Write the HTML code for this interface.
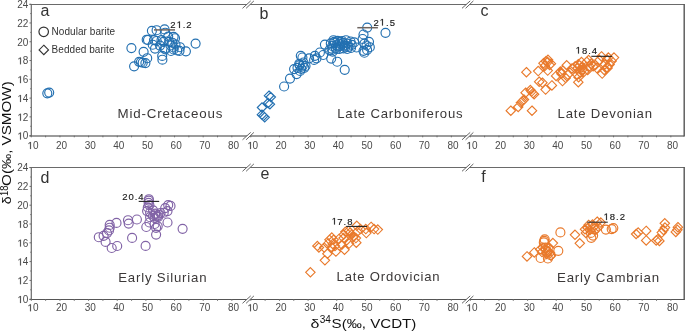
<!DOCTYPE html>
<html><head><meta charset="utf-8"><style>
*{margin:0;padding:0}
html,body{width:685px;height:331px;background:#fff;overflow:hidden}
svg{display:block;will-change:transform}
text{font-family:"Liberation Sans",sans-serif}
.tl{font-size:10px;fill:#4a4a4a}
path.tl{stroke:#4a4a4a;stroke-width:40}
path.vl{stroke:#222;stroke-width:40}
.pl{font-size:16px;fill:#333}
.pn{font-size:13px;fill:#3b3838;letter-spacing:0.8px}
.lg{font-size:10px;fill:#333;letter-spacing:0.05px}
.at{font-size:12.6px;fill:#111}
.sup{font-size:10px;fill:#111}
.vl{font-size:9.5px;fill:#1a1a1a;stroke:#1a1a1a;stroke-width:0.15px}
</style></head>
<body><svg width="685" height="331" viewBox="0 0 685 331">
<path d="M29.50 4.50H684.20" stroke="#6a6a6a" stroke-width="1.1" fill="none"/>
<path d="M29.50 136.00H684.20" stroke="#7a7a7a" stroke-width="1.3" fill="none"/>
<path d="M31.30 4.50V136.00" stroke="#6a6a6a" stroke-width="1.2" fill="none"/>
<path d="M684.20 3.90V136.60" stroke="#555" stroke-width="1.4" fill="none"/>
<path d="M29.50 135.66H31.30M30.30 126.27H31.30M29.50 116.88H31.30M30.30 107.49H31.30M29.50 98.10H31.30M30.30 88.71H31.30M29.50 79.32H31.30M30.30 69.93H31.30M29.50 60.54H31.30M30.30 51.15H31.30M29.50 41.76H31.30M30.30 32.37H31.30M29.50 22.98H31.30M30.30 13.59H31.30M29.50 4.20H31.30" stroke="#6a6a6a" stroke-width="1" fill="none"/>
<text x="17.18" y="139.46" class="tl"> 0</text><path class="tl" d="M575 0L756 0L756 1409L590 1409L257 1180L257 1010L575 1237Z" transform="translate(17.25 139.46) scale(0.00488 -0.00488)"/>
<text x="17.18" y="120.68" class="tl"> 2</text><path class="tl" d="M575 0L756 0L756 1409L590 1409L257 1180L257 1010L575 1237Z" transform="translate(17.25 120.68) scale(0.00488 -0.00488)"/>
<text x="17.18" y="101.90" class="tl"> 4</text><path class="tl" d="M575 0L756 0L756 1409L590 1409L257 1180L257 1010L575 1237Z" transform="translate(17.25 101.90) scale(0.00488 -0.00488)"/>
<text x="17.18" y="83.12" class="tl"> 6</text><path class="tl" d="M575 0L756 0L756 1409L590 1409L257 1180L257 1010L575 1237Z" transform="translate(17.25 83.12) scale(0.00488 -0.00488)"/>
<text x="17.18" y="64.34" class="tl"> 8</text><path class="tl" d="M575 0L756 0L756 1409L590 1409L257 1180L257 1010L575 1237Z" transform="translate(17.25 64.34) scale(0.00488 -0.00488)"/>
<text x="17.18" y="45.56" class="tl">20</text>
<text x="17.18" y="26.78" class="tl">22</text>
<text x="17.18" y="8.00" class="tl">24</text>
<text x="27.34" y="149.00" class="tl"> 0</text><path class="tl" d="M575 0L756 0L756 1409L590 1409L257 1180L257 1010L575 1237Z" transform="translate(27.25 149.00) scale(0.00488 -0.00488)"/>
<text x="55.99" y="149.00" class="tl">20</text>
<text x="84.64" y="149.00" class="tl">30</text>
<text x="113.29" y="149.00" class="tl">40</text>
<text x="141.94" y="149.00" class="tl">50</text>
<text x="170.59" y="149.00" class="tl">60</text>
<text x="199.24" y="149.00" class="tl">70</text>
<text x="227.89" y="149.00" class="tl">80</text>
<text x="246.84" y="149.00" class="tl"> 0</text><path class="tl" d="M575 0L756 0L756 1409L590 1409L257 1180L257 1010L575 1237Z" transform="translate(247.25 149.00) scale(0.00488 -0.00488)"/>
<text x="275.49" y="149.00" class="tl">20</text>
<text x="304.14" y="149.00" class="tl">30</text>
<text x="332.79" y="149.00" class="tl">40</text>
<text x="361.44" y="149.00" class="tl">50</text>
<text x="390.09" y="149.00" class="tl">60</text>
<text x="418.74" y="149.00" class="tl">70</text>
<text x="447.39" y="149.00" class="tl">80</text>
<text x="466.34" y="149.00" class="tl"> 0</text><path class="tl" d="M575 0L756 0L756 1409L590 1409L257 1180L257 1010L575 1237Z" transform="translate(466.25 149.00) scale(0.00488 -0.00488)"/>
<text x="494.99" y="149.00" class="tl">20</text>
<text x="523.64" y="149.00" class="tl">30</text>
<text x="552.29" y="149.00" class="tl">40</text>
<text x="580.94" y="149.00" class="tl">50</text>
<text x="609.59" y="149.00" class="tl">60</text>
<text x="638.24" y="149.00" class="tl">70</text>
<text x="666.89" y="149.00" class="tl">80</text>
<path d="M31.30 135.70V137.30M45.62 135.70V137.30M59.95 135.70V137.30M74.28 135.70V137.30M88.60 135.70V137.30M102.92 135.70V137.30M117.25 135.70V137.30M131.58 135.70V137.30M145.90 135.70V137.30M160.23 135.70V137.30M174.55 135.70V137.30M188.88 135.70V137.30M203.20 135.70V137.30M217.53 135.70V137.30M231.85 135.70V137.30M250.80 135.70V137.30M265.12 135.70V137.30M279.45 135.70V137.30M293.78 135.70V137.30M308.10 135.70V137.30M322.43 135.70V137.30M336.75 135.70V137.30M351.08 135.70V137.30M365.40 135.70V137.30M379.73 135.70V137.30M394.05 135.70V137.30M408.38 135.70V137.30M422.70 135.70V137.30M437.03 135.70V137.30M451.35 135.70V137.30M470.30 135.70V137.30M484.62 135.70V137.30M498.95 135.70V137.30M513.27 135.70V137.30M527.60 135.70V137.30M541.92 135.70V137.30M556.25 135.70V137.30M570.58 135.70V137.30M584.90 135.70V137.30M599.23 135.70V137.30M613.55 135.70V137.30M627.88 135.70V137.30M642.20 135.70V137.30M656.53 135.70V137.30M670.85 135.70V137.30" stroke="#6a6a6a" stroke-width="1" fill="none"/>
<path d="M242.50 8.30L250.70 0.90L253.90 0.90L246.10 8.30Z" fill="#fff"/>
<path d="M242.50 8.30L250.70 0.90M246.10 8.30L253.90 0.90" stroke="#555" stroke-width="0.9" fill="none"/>
<path d="M242.50 139.80L250.70 132.40L253.90 132.40L246.10 139.80Z" fill="#fff"/>
<path d="M242.50 139.80L250.70 132.40M246.10 139.80L253.90 132.40" stroke="#555" stroke-width="0.9" fill="none"/>
<path d="M462.00 8.30L470.20 0.90L473.40 0.90L465.60 8.30Z" fill="#fff"/>
<path d="M462.00 8.30L470.20 0.90M465.60 8.30L473.40 0.90" stroke="#555" stroke-width="0.9" fill="none"/>
<path d="M462.00 139.80L470.20 132.40L473.40 132.40L465.60 139.80Z" fill="#fff"/>
<path d="M462.00 139.80L470.20 132.40M465.60 139.80L473.40 132.40" stroke="#555" stroke-width="0.9" fill="none"/>
<path d="M29.50 167.50H684.20" stroke="#6a6a6a" stroke-width="1.1" fill="none"/>
<path d="M29.50 299.50H684.20" stroke="#555" stroke-width="1.1" fill="none"/>
<path d="M31.30 167.50V299.50" stroke="#6a6a6a" stroke-width="1.2" fill="none"/>
<path d="M684.20 166.90V300.10" stroke="#555" stroke-width="1.4" fill="none"/>
<path d="M29.50 299.20H31.30M30.30 289.80H31.30M29.50 280.40H31.30M30.30 271.00H31.30M29.50 261.60H31.30M30.30 252.20H31.30M29.50 242.80H31.30M30.30 233.40H31.30M29.50 224.00H31.30M30.30 214.60H31.30M29.50 205.20H31.30M30.30 195.80H31.30M29.50 186.40H31.30M30.30 177.00H31.30M29.50 167.60H31.30" stroke="#6a6a6a" stroke-width="1" fill="none"/>
<text x="17.18" y="303.00" class="tl"> 0</text><path class="tl" d="M575 0L756 0L756 1409L590 1409L257 1180L257 1010L575 1237Z" transform="translate(17.25 303.00) scale(0.00488 -0.00488)"/>
<text x="17.18" y="284.20" class="tl"> 2</text><path class="tl" d="M575 0L756 0L756 1409L590 1409L257 1180L257 1010L575 1237Z" transform="translate(17.25 284.20) scale(0.00488 -0.00488)"/>
<text x="17.18" y="265.40" class="tl"> 4</text><path class="tl" d="M575 0L756 0L756 1409L590 1409L257 1180L257 1010L575 1237Z" transform="translate(17.25 265.40) scale(0.00488 -0.00488)"/>
<text x="17.18" y="246.60" class="tl"> 6</text><path class="tl" d="M575 0L756 0L756 1409L590 1409L257 1180L257 1010L575 1237Z" transform="translate(17.25 246.60) scale(0.00488 -0.00488)"/>
<text x="17.18" y="227.80" class="tl"> 8</text><path class="tl" d="M575 0L756 0L756 1409L590 1409L257 1180L257 1010L575 1237Z" transform="translate(17.25 227.80) scale(0.00488 -0.00488)"/>
<text x="17.18" y="209.00" class="tl">20</text>
<text x="17.18" y="190.20" class="tl">22</text>
<text x="17.18" y="171.40" class="tl">24</text>
<text x="27.34" y="311.20" class="tl"> 0</text><path class="tl" d="M575 0L756 0L756 1409L590 1409L257 1180L257 1010L575 1237Z" transform="translate(27.25 311.20) scale(0.00488 -0.00488)"/>
<text x="55.99" y="311.20" class="tl">20</text>
<text x="84.64" y="311.20" class="tl">30</text>
<text x="113.29" y="311.20" class="tl">40</text>
<text x="141.94" y="311.20" class="tl">50</text>
<text x="170.59" y="311.20" class="tl">60</text>
<text x="199.24" y="311.20" class="tl">70</text>
<text x="227.89" y="311.20" class="tl">80</text>
<text x="246.84" y="311.20" class="tl"> 0</text><path class="tl" d="M575 0L756 0L756 1409L590 1409L257 1180L257 1010L575 1237Z" transform="translate(247.25 311.20) scale(0.00488 -0.00488)"/>
<text x="275.49" y="311.20" class="tl">20</text>
<text x="304.14" y="311.20" class="tl">30</text>
<text x="332.79" y="311.20" class="tl">40</text>
<text x="361.44" y="311.20" class="tl">50</text>
<text x="390.09" y="311.20" class="tl">60</text>
<text x="418.74" y="311.20" class="tl">70</text>
<text x="447.39" y="311.20" class="tl">80</text>
<text x="466.34" y="311.20" class="tl"> 0</text><path class="tl" d="M575 0L756 0L756 1409L590 1409L257 1180L257 1010L575 1237Z" transform="translate(466.25 311.20) scale(0.00488 -0.00488)"/>
<text x="494.99" y="311.20" class="tl">20</text>
<text x="523.64" y="311.20" class="tl">30</text>
<text x="552.29" y="311.20" class="tl">40</text>
<text x="580.94" y="311.20" class="tl">50</text>
<text x="609.59" y="311.20" class="tl">60</text>
<text x="638.24" y="311.20" class="tl">70</text>
<text x="666.89" y="311.20" class="tl">80</text>
<path d="M31.30 299.20V300.80M45.62 299.20V300.80M59.95 299.20V300.80M74.28 299.20V300.80M88.60 299.20V300.80M102.92 299.20V300.80M117.25 299.20V300.80M131.58 299.20V300.80M145.90 299.20V300.80M160.23 299.20V300.80M174.55 299.20V300.80M188.88 299.20V300.80M203.20 299.20V300.80M217.53 299.20V300.80M231.85 299.20V300.80M250.80 299.20V300.80M265.12 299.20V300.80M279.45 299.20V300.80M293.78 299.20V300.80M308.10 299.20V300.80M322.43 299.20V300.80M336.75 299.20V300.80M351.08 299.20V300.80M365.40 299.20V300.80M379.73 299.20V300.80M394.05 299.20V300.80M408.38 299.20V300.80M422.70 299.20V300.80M437.03 299.20V300.80M451.35 299.20V300.80M470.30 299.20V300.80M484.62 299.20V300.80M498.95 299.20V300.80M513.27 299.20V300.80M527.60 299.20V300.80M541.92 299.20V300.80M556.25 299.20V300.80M570.58 299.20V300.80M584.90 299.20V300.80M599.23 299.20V300.80M613.55 299.20V300.80M627.88 299.20V300.80M642.20 299.20V300.80M656.53 299.20V300.80M670.85 299.20V300.80" stroke="#6a6a6a" stroke-width="1" fill="none"/>
<path d="M242.50 171.30L250.70 163.90L253.90 163.90L246.10 171.30Z" fill="#fff"/>
<path d="M242.50 171.30L250.70 163.90M246.10 171.30L253.90 163.90" stroke="#555" stroke-width="0.9" fill="none"/>
<path d="M242.50 303.30L250.70 295.90L253.90 295.90L246.10 303.30Z" fill="#fff"/>
<path d="M242.50 303.30L250.70 295.90M246.10 303.30L253.90 295.90" stroke="#555" stroke-width="0.9" fill="none"/>
<path d="M462.00 171.30L470.20 163.90L473.40 163.90L465.60 171.30Z" fill="#fff"/>
<path d="M462.00 171.30L470.20 163.90M465.60 171.30L473.40 163.90" stroke="#555" stroke-width="0.9" fill="none"/>
<path d="M462.00 303.30L470.20 295.90L473.40 295.90L465.60 303.30Z" fill="#fff"/>
<path d="M462.00 303.30L470.20 295.90M465.60 303.30L473.40 295.90" stroke="#555" stroke-width="0.9" fill="none"/>
<text x="40.40" y="16.00" class="pl">a</text>
<text x="259.50" y="18.90" class="pl">b</text>
<text x="480.60" y="16.00" class="pl">c</text>
<text x="40.60" y="182.60" class="pl">d</text>
<text x="260.50" y="179.40" class="pl">e</text>
<text x="481.20" y="182.20" class="pl">f</text>
<text x="117.60" y="118.00" class="pn" textLength="105.7" lengthAdjust="spacingAndGlyphs">Mid-Cretaceous</text>
<text x="337.20" y="117.60" class="pn" textLength="126.3" lengthAdjust="spacingAndGlyphs">Late Carboniferous</text>
<text x="557.60" y="118.00" class="pn" textLength="95.25" lengthAdjust="spacingAndGlyphs">Late Devonian</text>
<text x="118.20" y="281.70" class="pn" textLength="89.1" lengthAdjust="spacingAndGlyphs">Early Silurian</text>
<text x="336.60" y="281.20" class="pn" textLength="103.8" lengthAdjust="spacingAndGlyphs">Late Ordovician</text>
<text x="557.00" y="281.90" class="pn" textLength="102.9" lengthAdjust="spacingAndGlyphs">Early Cambrian</text>
<circle cx="43.7" cy="31.8" r="4.75" fill="none" stroke="#333" stroke-width="1.2"/>
<path d="M43.8 45.2L48.5 49.9L43.8 54.6L39.1 49.9Z" fill="none" stroke="#333" stroke-width="1.15"/>
<text x="51.6" y="34.8" class="lg">Nodular barite</text>
<text x="51.6" y="53.0" class="lg">Bedded barite</text>
<text x="310.5" y="328.1" class="at" style="font-size:13.2px" textLength="8.9" lengthAdjust="spacingAndGlyphs">δ</text>
<text x="319.7" y="323.4" class="sup" textLength="11.2" lengthAdjust="spacingAndGlyphs">34</text>
<text x="331.6" y="328.1" class="at" textLength="84.8" lengthAdjust="spacingAndGlyphs">S(‰, VCDT)</text>
<g transform="translate(11.4 203.9) rotate(-90)"><text x="-0.3" y="0" class="at" style="font-size:13.2px" textLength="7.9" lengthAdjust="spacingAndGlyphs">δ</text><text x="7.9" y="-3.9" class="sup" textLength="10.4" lengthAdjust="spacingAndGlyphs">18</text><text x="18.0" y="0" class="at" textLength="104.6" lengthAdjust="spacingAndGlyphs">O(‰, VSMOW)</text></g>
<g fill="none" stroke="#2370b1" stroke-width="1.15"><circle cx="47.3" cy="93.3" r="4.5"/><circle cx="49.2" cy="92.6" r="4.5"/><circle cx="131.4" cy="48.1" r="4.5"/><circle cx="143.6" cy="51.8" r="4.5"/><circle cx="147.2" cy="58.2" r="4.5"/><circle cx="134.1" cy="66.3" r="4.5"/><circle cx="139.1" cy="61.8" r="4.5"/><circle cx="140.9" cy="62.2" r="4.5"/><circle cx="142.7" cy="62.7" r="4.5"/><circle cx="145.4" cy="63.1" r="4.5"/><circle cx="146.7" cy="39.7" r="4.5"/><circle cx="148.0" cy="39.9" r="4.5"/><circle cx="151.9" cy="30.8" r="4.5"/><circle cx="156.6" cy="30.2" r="4.5"/><circle cx="164.6" cy="29.4" r="4.5"/><circle cx="165.2" cy="32.7" r="4.5"/><circle cx="154.0" cy="40.1" r="4.5"/><circle cx="156.7" cy="41.0" r="4.5"/><circle cx="161.5" cy="40.1" r="4.5"/><circle cx="163.6" cy="41.8" r="4.5"/><circle cx="169.1" cy="41.8" r="4.5"/><circle cx="168.2" cy="36.6" r="4.5"/><circle cx="173.6" cy="36.8" r="4.5"/><circle cx="175.0" cy="38.2" r="4.5"/><circle cx="172.3" cy="42.7" r="4.5"/><circle cx="152.7" cy="44.7" r="4.5"/><circle cx="155.0" cy="48.6" r="4.5"/><circle cx="160.0" cy="45.6" r="4.5"/><circle cx="164.9" cy="48.6" r="4.5"/><circle cx="165.4" cy="49.5" r="4.5"/><circle cx="173.6" cy="49.5" r="4.5"/><circle cx="177.2" cy="50.4" r="4.5"/><circle cx="179.5" cy="50.9" r="4.5"/><circle cx="180.0" cy="47.2" r="4.5"/><circle cx="185.9" cy="51.3" r="4.5"/><circle cx="195.6" cy="43.6" r="4.5"/><circle cx="162.2" cy="55.9" r="4.5"/><circle cx="162.4" cy="59.7" r="4.5"/><circle cx="170.5" cy="45.5" r="4.5"/><circle cx="173.5" cy="47.5" r="4.5"/><circle cx="171.0" cy="51.0" r="4.5"/><circle cx="175.5" cy="44.5" r="4.5"/></g>
<path d="M154 29.9H175" stroke="#6e6560" stroke-width="1.5"/>
<text x="170.30" y="28.00" class="vl" style="letter-spacing:0.95px">2 .2</text><path class="vl" d="M575 0L756 0L756 1409L590 1409L257 1180L257 1010L575 1237Z" transform="translate(176.41 28.00) scale(0.00464 -0.00464)"/>
<g fill="none" stroke="#2370b1" stroke-width="1.15"><circle cx="284.1" cy="86.5" r="4.5"/><circle cx="290.0" cy="78.6" r="4.5"/><circle cx="296.6" cy="74.1" r="4.5"/><circle cx="294.1" cy="69.1" r="4.5"/><circle cx="300.8" cy="55.8" r="4.5"/><circle cx="302.4" cy="57.5" r="4.5"/><circle cx="299.6" cy="65.1" r="4.5"/><circle cx="302.8" cy="65.6" r="4.5"/><circle cx="301.2" cy="68.8" r="4.5"/><circle cx="304.3" cy="67.8" r="4.5"/><circle cx="297.5" cy="67.8" r="4.5"/><circle cx="300.1" cy="70.9" r="4.5"/><circle cx="299.2" cy="63.9" r="4.5"/><circle cx="303.5" cy="62.5" r="4.5"/><circle cx="305.5" cy="66.0" r="4.5"/><circle cx="309.1" cy="58.3" r="4.5"/><circle cx="314.9" cy="55.8" r="4.5"/><circle cx="316.5" cy="58.3" r="4.5"/><circle cx="314.1" cy="59.9" r="4.5"/><circle cx="319.9" cy="52.5" r="4.5"/><circle cx="323.2" cy="55.0" r="4.5"/><circle cx="324.9" cy="44.6" r="4.5"/><circle cx="329.4" cy="50.2" r="4.5"/><circle cx="331.2" cy="58.6" r="4.5"/><circle cx="337.2" cy="61.7" r="4.5"/><circle cx="344.7" cy="69.8" r="4.5"/><circle cx="333.5" cy="40.2" r="4.5"/><circle cx="337.5" cy="40.8" r="4.5"/><circle cx="342.2" cy="41.0" r="4.5"/><circle cx="346.0" cy="40.2" r="4.5"/><circle cx="350.5" cy="41.5" r="4.5"/><circle cx="354.2" cy="42.4" r="4.5"/><circle cx="330.8" cy="43.4" r="4.5"/><circle cx="334.8" cy="43.0" r="4.5"/><circle cx="339.2" cy="43.6" r="4.5"/><circle cx="343.2" cy="42.8" r="4.5"/><circle cx="347.4" cy="43.6" r="4.5"/><circle cx="351.8" cy="44.8" r="4.5"/><circle cx="332.2" cy="46.0" r="4.5"/><circle cx="336.4" cy="45.4" r="4.5"/><circle cx="340.0" cy="46.2" r="4.5"/><circle cx="344.4" cy="45.6" r="4.5"/><circle cx="348.6" cy="46.8" r="4.5"/><circle cx="331.5" cy="48.6" r="4.5"/><circle cx="335.6" cy="48.0" r="4.5"/><circle cx="339.6" cy="48.8" r="4.5"/><circle cx="343.4" cy="48.4" r="4.5"/><circle cx="347.2" cy="49.0" r="4.5"/><circle cx="351.0" cy="48.0" r="4.5"/><circle cx="334.2" cy="41.8" r="4.5"/><circle cx="338.0" cy="46.5" r="4.5"/><circle cx="341.8" cy="44.2" r="4.5"/><circle cx="345.2" cy="47.2" r="4.5"/><circle cx="340.2" cy="41.8" r="4.5"/><circle cx="336.2" cy="49.2" r="4.5"/><circle cx="332.6" cy="51.6" r="4.5"/><circle cx="356.5" cy="47.5" r="4.5"/><circle cx="363.5" cy="34.5" r="4.5"/><circle cx="362.6" cy="39.0" r="4.5"/><circle cx="364.4" cy="43.6" r="4.5"/><circle cx="369.8" cy="47.2" r="4.5"/><circle cx="367.1" cy="49.9" r="4.5"/><circle cx="363.5" cy="50.8" r="4.5"/><circle cx="364.4" cy="52.7" r="4.5"/><circle cx="369.0" cy="41.8" r="4.5"/><circle cx="366.5" cy="45.5" r="4.5"/><circle cx="367.2" cy="27.6" r="4.5"/><circle cx="385.5" cy="32.8" r="4.5"/></g>
<path d="M269.0 91.0L273.7 95.7L269.0 100.4L264.3 95.7ZM270.8 92.3L275.5 97.0L270.8 101.7L266.1 97.0ZM268.1 98.3L272.8 103.0L268.1 107.7L263.40000000000003 103.0ZM269.9 99.5L274.59999999999997 104.2L269.9 108.9L265.2 104.2ZM262.0 102.8L266.7 107.5L262.0 112.2L257.3 107.5ZM261.9 110.0L266.59999999999997 114.7L261.9 119.4L257.2 114.7ZM263.4 111.3L268.09999999999997 116.0L263.4 120.7L258.7 116.0ZM264.7 112.6L269.4 117.3L264.7 122.0L260.0 117.3Z" fill="none" stroke="#2370b1" stroke-width="1.15"/>
<path d="M357.3 27.7H377.9" stroke="#6e6560" stroke-width="1.5"/>
<text x="373.60" y="25.50" class="vl" style="letter-spacing:0.95px">2 .5</text><path class="vl" d="M575 0L756 0L756 1409L590 1409L257 1180L257 1010L575 1237Z" transform="translate(379.41 25.50) scale(0.00464 -0.00464)"/>
<path d="M526.4 67.5L531.1 72.2L526.4 76.9L521.6999999999999 72.2ZM510.8 106.0L515.5 110.7L510.8 115.4L506.1 110.7ZM518.2 102.3L522.9000000000001 107.0L518.2 111.7L513.5 107.0ZM520.9 98.1L525.6 102.8L520.9 107.5L516.1999999999999 102.8ZM521.9 97.0L526.6 101.7L521.9 106.4L517.1999999999999 101.7ZM523.0 95.89999999999999L527.7 100.6L523.0 105.3L518.3 100.6ZM524.0 94.89999999999999L528.7 99.6L524.0 104.3L519.3 99.6ZM525.6 88.0L530.3000000000001 92.7L525.6 97.4L520.9 92.7ZM530.4 85.39999999999999L535.1 90.1L530.4 94.8L525.6999999999999 90.1ZM531.5 86.89999999999999L536.2 91.6L531.5 96.3L526.8 91.6ZM533.0 88.5L537.7 93.2L533.0 97.9L528.3 93.2ZM534.1 89.6L538.8000000000001 94.3L534.1 99.0L529.4 94.3ZM532.0 106.0L536.7 110.7L532.0 115.4L527.3 110.7ZM538.2 66.39999999999999L542.9000000000001 71.1L538.2 75.8L533.5 71.1ZM548.0 55.099999999999994L552.7 59.8L548.0 64.5L543.3 59.8ZM545.9 56.599999999999994L550.6 61.3L545.9 66.0L541.1999999999999 61.3ZM543.5 58.5L548.2 63.2L543.5 67.9L538.8 63.2ZM547.7 57.4L552.4000000000001 62.1L547.7 66.8L543.0 62.1ZM550.9 59.0L555.6 63.7L550.9 68.4L546.1999999999999 63.7ZM544.8 61.3L549.5 66.0L544.8 70.7L540.0999999999999 66.0ZM549.6 60.3L554.3000000000001 65.0L549.6 69.7L544.9 65.0ZM547.7 65.89999999999999L552.4000000000001 70.6L547.7 75.3L543.0 70.6ZM539.2 77.0L543.9000000000001 81.7L539.2 86.4L534.5 81.7ZM542.4 78.0L547.1 82.7L542.4 87.4L537.6999999999999 82.7ZM551.9 80.7L556.6 85.4L551.9 90.10000000000001L547.1999999999999 85.4ZM545.6 84.89999999999999L550.3000000000001 89.6L545.6 94.3L540.9 89.6ZM556.1 71.2L560.8000000000001 75.9L556.1 80.60000000000001L551.4 75.9ZM560.4 66.89999999999999L565.1 71.6L560.4 76.3L555.6999999999999 71.6ZM561.4 69.0L566.1 73.7L561.4 78.4L556.6999999999999 73.7ZM563.0 65.89999999999999L567.7 70.6L563.0 75.3L558.3 70.6ZM566.7 60.599999999999994L571.4000000000001 65.3L566.7 70.0L562.0 65.3ZM562.5 76.39999999999999L567.2 81.1L562.5 85.8L557.8 81.1ZM565.7 73.3L570.4000000000001 78.0L565.7 82.7L561.0 78.0ZM567.8 70.1L572.5 74.8L567.8 79.5L563.0999999999999 74.8ZM569.9 68.0L574.6 72.7L569.9 77.4L565.1999999999999 72.7ZM572.0 63.8L576.7 68.5L572.0 73.2L567.3 68.5ZM575.2 61.599999999999994L579.9000000000001 66.3L575.2 71.0L570.5 66.3ZM578.3 59.5L583.0 64.2L578.3 68.9L573.5999999999999 64.2ZM581.5 57.4L586.2 62.1L581.5 66.8L576.8 62.1ZM578.3 77.5L583.0 82.2L578.3 86.9L573.5999999999999 82.2ZM577.3 70.1L582.0 74.8L577.3 79.5L572.5999999999999 74.8ZM580.5 68.0L585.2 72.7L580.5 77.4L575.8 72.7ZM582.6 64.8L587.3000000000001 69.5L582.6 74.2L577.9 69.5ZM601.5 51.699999999999996L606.2 56.4L601.5 61.1L596.8 56.4ZM599.5 55.3L604.2 60.0L599.5 64.7L594.8 60.0ZM602.2 68.89999999999999L606.9000000000001 73.6L602.2 78.3L597.5 73.6ZM596.8 63.39999999999999L601.5 68.1L596.8 72.8L592.0999999999999 68.1ZM588.6 55.3L593.3000000000001 60.0L588.6 64.7L583.9 60.0ZM586.8 57.099999999999994L591.5 61.8L586.8 66.5L582.0999999999999 61.8ZM591.3 58.9L596.0 63.6L591.3 68.3L586.5999999999999 63.6ZM593.1 61.599999999999994L597.8000000000001 66.3L593.1 71.0L588.4 66.3ZM589.5 61.599999999999994L594.2 66.3L589.5 71.0L584.8 66.3ZM584.1 59.8L588.8000000000001 64.5L584.1 69.2L579.4 64.5ZM582.3 62.5L587.0 67.2L582.3 71.9L577.5999999999999 67.2ZM579.5 60.7L584.2 65.4L579.5 70.10000000000001L574.8 65.4ZM577.7 63.39999999999999L582.4000000000001 68.1L577.7 72.8L573.0 68.1ZM580.4 68.0L585.1 72.7L580.4 77.4L575.6999999999999 72.7ZM584.1 67.1L588.8000000000001 71.8L584.1 76.5L579.4 71.8ZM587.7 65.3L592.4000000000001 70.0L587.7 74.7L583.0 70.0ZM578.6 72.5L583.3000000000001 77.2L578.6 81.9L573.9 77.2ZM614.0 52.9L618.7 57.6L614.0 62.300000000000004L609.3 57.6ZM608.4 52.9L613.1 57.6L608.4 62.300000000000004L603.6999999999999 57.6ZM607.0 55.0L611.7 59.7L607.0 64.4L602.3 59.7ZM611.7 56.4L616.4000000000001 61.1L611.7 65.8L607.0 61.1ZM609.6 59.8L614.3000000000001 64.5L609.6 69.2L604.9 64.5ZM607.6 63.2L612.3000000000001 67.9L607.6 72.60000000000001L602.9 67.9ZM604.2 65.2L608.9000000000001 69.9L604.2 74.60000000000001L599.5 69.9ZM604.9 59.8L609.6 64.5L604.9 69.2L600.1999999999999 64.5ZM595.4 60.39999999999999L600.1 65.1L595.4 69.8L590.6999999999999 65.1Z" fill="none" stroke="#e97a2c" stroke-width="1.15"/>
<path d="M591.3 56.3H612" stroke="#222" stroke-width="1.1"/>
<text x="575.80" y="53.60" class="vl" style="letter-spacing:0.95px"> 8.4</text><path class="vl" d="M575 0L756 0L756 1409L590 1409L257 1180L257 1010L575 1237Z" transform="translate(575.41 53.60) scale(0.00464 -0.00464)"/>
<g fill="none" stroke="#8163a6" stroke-width="1.15"><circle cx="98.8" cy="237.2" r="4.5"/><circle cx="103.6" cy="235.8" r="4.5"/><circle cx="105.6" cy="241.9" r="4.5"/><circle cx="107.0" cy="233.1" r="4.5"/><circle cx="109.0" cy="230.4" r="4.5"/><circle cx="109.7" cy="227.7" r="4.5"/><circle cx="109.7" cy="224.9" r="4.5"/><circle cx="116.5" cy="222.9" r="4.5"/><circle cx="111.7" cy="248.0" r="4.5"/><circle cx="117.2" cy="246.0" r="4.5"/><circle cx="128.0" cy="220.2" r="4.5"/><circle cx="128.7" cy="223.6" r="4.5"/><circle cx="136.9" cy="219.5" r="4.5"/><circle cx="132.1" cy="237.9" r="4.5"/><circle cx="145.6" cy="245.9" r="4.5"/><circle cx="148.8" cy="200.6" r="4.5"/><circle cx="148.6" cy="202.8" r="4.5"/><circle cx="149.4" cy="205.1" r="4.5"/><circle cx="147.8" cy="207.4" r="4.5"/><circle cx="147.1" cy="211.1" r="4.5"/><circle cx="150.1" cy="212.7" r="4.5"/><circle cx="153.1" cy="210.4" r="4.5"/><circle cx="155.4" cy="214.2" r="4.5"/><circle cx="158.4" cy="214.9" r="4.5"/><circle cx="156.9" cy="216.4" r="4.5"/><circle cx="154.6" cy="217.9" r="4.5"/><circle cx="165.2" cy="208.1" r="4.5"/><circle cx="168.2" cy="205.1" r="4.5"/><circle cx="170.5" cy="205.9" r="4.5"/><circle cx="167.5" cy="211.1" r="4.5"/><circle cx="163.7" cy="212.7" r="4.5"/><circle cx="146.3" cy="227.0" r="4.5"/><circle cx="149.4" cy="222.5" r="4.5"/><circle cx="154.6" cy="224.0" r="4.5"/><circle cx="157.7" cy="226.3" r="4.5"/><circle cx="156.1" cy="227.8" r="4.5"/><circle cx="167.5" cy="222.5" r="4.5"/><circle cx="156.1" cy="234.6" r="4.5"/><circle cx="150.1" cy="217.2" r="4.5"/><circle cx="182.6" cy="228.8" r="4.5"/><circle cx="155.5" cy="213.5" r="4.5"/><circle cx="158.2" cy="216.8" r="4.5"/><circle cx="153.0" cy="216.0" r="4.5"/><circle cx="160.5" cy="213.0" r="4.5"/><circle cx="148.9" cy="199.2" r="4.5"/></g>
<path d="M138.7 201.4H159.2" stroke="#222" stroke-width="1.1"/>
<text x="122.20" y="200.00" class="vl" style="letter-spacing:0.95px">20.4</text>
<path d="M317.4 241.3L322.09999999999997 246.0L317.4 250.7L312.7 246.0ZM318.9 242.8L323.59999999999997 247.5L318.9 252.2L314.2 247.5ZM324.9 255.60000000000002L329.59999999999997 260.3L324.9 265.0L320.2 260.3ZM327.4 249.10000000000002L332.09999999999997 253.8L327.4 258.5L322.7 253.8ZM324.2 242.8L328.9 247.5L324.2 252.2L319.5 247.5ZM331.8 232.9L336.5 237.6L331.8 242.29999999999998L327.1 237.6ZM329.5 235.10000000000002L334.2 239.8L329.5 244.5L324.8 239.8ZM333.6 235.10000000000002L338.3 239.8L333.6 244.5L328.90000000000003 239.8ZM327.7 239.20000000000002L332.4 243.9L327.7 248.6L323.0 243.9ZM332.7 239.20000000000002L337.4 243.9L332.7 248.6L328.0 243.9ZM335.0 241.4L339.7 246.1L335.0 250.79999999999998L330.3 246.1ZM331.8 242.8L336.5 247.5L331.8 252.2L327.1 247.5ZM339.0 234.20000000000002L343.7 238.9L339.0 243.6L334.3 238.9ZM341.8 240.10000000000002L346.5 244.8L341.8 249.5L337.1 244.8ZM346.3 236.0L351.0 240.7L346.3 245.39999999999998L341.6 240.7ZM335.9 246.9L340.59999999999997 251.6L335.9 256.3L331.2 251.6ZM344.5 245.10000000000002L349.2 249.8L344.5 254.5L339.8 249.8ZM343.8 229.9L348.5 234.6L343.8 239.29999999999998L339.1 234.6ZM356.8 221.10000000000002L361.5 225.8L356.8 230.5L352.1 225.8ZM365.8 224.4L370.5 229.1L365.8 233.79999999999998L361.1 229.1ZM366.3 228.4L371.0 233.1L366.3 237.79999999999998L361.6 233.1ZM371.1 222.20000000000002L375.8 226.9L371.1 231.6L366.40000000000003 226.9ZM374.1 224.4L378.8 229.1L374.1 233.79999999999998L369.40000000000003 229.1ZM377.8 224.9L382.5 229.6L377.8 234.29999999999998L373.1 229.6ZM345.4 227.10000000000002L350.09999999999997 231.8L345.4 236.5L340.7 231.8ZM348.6 226.20000000000002L353.3 230.9L348.6 235.6L343.90000000000003 230.9ZM350.0 228.0L354.7 232.7L350.0 237.39999999999998L345.3 232.7ZM351.8 229.8L356.5 234.5L351.8 239.2L347.1 234.5ZM357.2 227.10000000000002L361.9 231.8L357.2 236.5L352.5 231.8ZM355.9 233.4L360.59999999999997 238.1L355.9 242.79999999999998L351.2 238.1ZM353.6 232.10000000000002L358.3 236.8L353.6 241.5L348.90000000000003 236.8ZM343.6 233.4L348.3 238.1L343.6 242.79999999999998L338.90000000000003 238.1ZM356.3 238.0L361.0 242.7L356.3 247.39999999999998L351.6 242.7ZM349.1 238.9L353.8 243.6L349.1 248.29999999999998L344.40000000000003 243.6ZM360.5 224.4L365.2 229.1L360.5 233.79999999999998L355.8 229.1ZM310.4 267.6L315.09999999999997 272.3L310.4 277.0L305.7 272.3Z" fill="none" stroke="#e97a2c" stroke-width="1.15"/>
<path d="M346.1 226.4H367.0" stroke="#222" stroke-width="1.1"/>
<text x="331.10" y="224.50" class="vl" style="letter-spacing:0.95px"> 7.8</text><path class="vl" d="M575 0L756 0L756 1409L590 1409L257 1180L257 1010L575 1237Z" transform="translate(331.41 224.50) scale(0.00464 -0.00464)"/>
<path d="M527.0 251.7L531.7 256.4L527.0 261.09999999999997L522.3 256.4ZM534.3 247.70000000000002L539.0 252.4L534.3 257.1L529.5999999999999 252.4ZM552.9 238.4L557.6 243.1L552.9 247.79999999999998L548.1999999999999 243.1ZM542.9 242.9L547.6 247.6L542.9 252.29999999999998L538.1999999999999 247.6ZM545.6 244.70000000000002L550.3000000000001 249.4L545.6 254.1L540.9 249.4ZM548.3 246.5L553.0 251.2L548.3 255.89999999999998L543.5999999999999 251.2ZM550.1 248.3L554.8000000000001 253.0L550.1 257.7L545.4 253.0ZM546.5 249.3L551.2 254.0L546.5 258.7L541.8 254.0ZM551.0 251.10000000000002L555.7 255.8L551.0 260.5L546.3 255.8ZM542.0 247.4L546.7 252.1L542.0 256.8L537.3 252.1ZM549.2 242.9L553.9000000000001 247.6L549.2 252.29999999999998L544.5 247.6ZM540.2 244.70000000000002L544.9000000000001 249.4L540.2 254.1L535.5 249.4ZM575.0 230.10000000000002L579.7 234.8L575.0 239.5L570.3 234.8ZM579.8 238.60000000000002L584.5 243.3L579.8 248.0L575.0999999999999 243.3ZM597.2 217.0L601.9000000000001 221.7L597.2 226.39999999999998L592.5 221.7ZM600.8 217.9L605.5 222.6L600.8 227.29999999999998L596.0999999999999 222.6ZM588.6 220.20000000000002L593.3000000000001 224.9L588.6 229.6L583.9 224.9ZM585.0 224.5L589.7 229.2L585.0 233.89999999999998L580.3 229.2ZM587.7 223.20000000000002L592.4000000000001 227.9L587.7 232.6L583.0 227.9ZM593.1 222.70000000000002L597.8000000000001 227.4L593.1 232.1L588.4 227.4ZM595.9 225.0L600.6 229.7L595.9 234.39999999999998L591.1999999999999 229.7ZM598.6 222.3L603.3000000000001 227.0L598.6 231.7L593.9 227.0ZM590.0 225.4L594.7 230.1L590.0 234.79999999999998L585.3 230.1ZM585.9 228.20000000000002L590.6 232.9L585.9 237.6L581.1999999999999 232.9ZM592.5 219.8L597.2 224.5L592.5 229.2L587.8 224.5ZM636.1 229.3L640.8000000000001 234.0L636.1 238.7L631.4 234.0ZM638.2 227.8L642.9000000000001 232.5L638.2 237.2L633.5 232.5ZM646.2 226.20000000000002L650.9000000000001 230.9L646.2 235.6L641.5 230.9ZM646.2 235.70000000000002L650.9000000000001 240.4L646.2 245.1L641.5 240.4ZM656.2 235.70000000000002L660.9000000000001 240.4L656.2 245.1L651.5 240.4ZM657.8 234.60000000000002L662.5 239.3L657.8 244.0L653.0999999999999 239.3ZM659.4 236.20000000000002L664.1 240.9L659.4 245.6L654.6999999999999 240.9ZM661.8 227.9L666.5 232.6L661.8 237.29999999999998L657.0999999999999 232.6ZM663.5 225.3L668.2 230.0L663.5 234.7L658.8 230.0ZM665.0 222.9L669.7 227.6L665.0 232.29999999999998L660.3 227.6ZM664.8 218.60000000000002L669.5 223.3L664.8 228.0L660.0999999999999 223.3ZM675.8 227.20000000000002L680.5 231.9L675.8 236.6L671.0999999999999 231.9ZM677.9 222.5L682.6 227.2L677.9 231.89999999999998L673.1999999999999 227.2ZM677.4 225.10000000000002L682.1 229.8L677.4 234.5L672.6999999999999 229.8Z" fill="none" stroke="#e97a2c" stroke-width="1.15"/>
<g fill="none" stroke="#e97a2c" stroke-width="1.15"><circle cx="544.7" cy="239.4" r="4.5"/><circle cx="544.2" cy="240.8" r="4.5"/><circle cx="543.8" cy="242.4" r="4.5"/><circle cx="545.6" cy="247.6" r="4.5"/><circle cx="547.4" cy="252.1" r="4.5"/><circle cx="550.1" cy="254.9" r="4.5"/><circle cx="540.6" cy="258.0" r="4.5"/><circle cx="547.9" cy="258.5" r="4.5"/><circle cx="558.3" cy="250.8" r="4.5"/><circle cx="560.4" cy="232.4" r="4.5"/><circle cx="590.9" cy="232.9" r="4.5"/><circle cx="593.1" cy="235.6" r="4.5"/><circle cx="591.3" cy="237.8" r="4.5"/><circle cx="605.9" cy="229.6" r="4.5"/><circle cx="611.7" cy="229.1" r="4.5"/><circle cx="613.3" cy="228.1" r="4.5"/><circle cx="594.8" cy="229.1" r="4.5"/></g>
<path d="M587.2 222.2H607.8" stroke="#333" stroke-width="1.1"/>
<text x="603.60" y="220.10" class="vl" style="letter-spacing:0.95px"> 8.2</text><path class="vl" d="M575 0L756 0L756 1409L590 1409L257 1180L257 1010L575 1237Z" transform="translate(603.41 220.10) scale(0.00464 -0.00464)"/>
</svg></body></html>
